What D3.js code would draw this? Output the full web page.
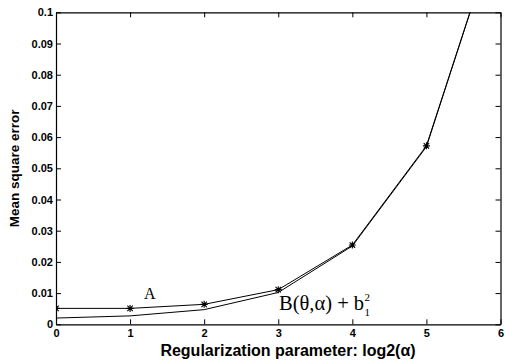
<!DOCTYPE html>
<html><head><meta charset="utf-8">
<script src="https://cdn.jsdelivr.net/npm/d3@7"></script>
<style>
html,body{margin:0;padding:0;background:#fff;}
svg{display:block;}
.tick text{font-family:"Liberation Sans",Arial,sans-serif;font-weight:bold;font-size:11px;fill:#000;}
</style></head>
<body>
<script>
const xValues = [0, 1, 2, 3, 4, 5, 6];
const seriesA = [0.0051, 0.0051, 0.0064, 0.0111, 0.0254, 0.0572, 0.130];
const seriesB = [0.0020, 0.0027, 0.0047, 0.0102, 0.0251, 0.0569, 0.130];
const xTicks = [0, 1, 2, 3, 4, 5, 6];
const yTicks = [0, 0.01, 0.02, 0.03, 0.04, 0.05, 0.06, 0.07, 0.08, 0.09, 0.1];
const yTickLabels = ["0", "0.01", "0.02", "0.03", "0.04", "0.05", "0.06", "0.07", "0.08", "0.09", "0.1"];

const W = 505, H = 364;
const L = 56, R = 500.5, T = 12.3, B = 324.3;
const svg = d3.select("body").append("svg").attr("width", W).attr("height", H);

const x = d3.scaleLinear().domain([0, 6]).range([L, R]);
const y = d3.scaleLinear().domain([0, 0.1]).range([B, T]);

svg.append("defs").append("clipPath").attr("id", "clip")
  .append("rect").attr("x", L).attr("y", T).attr("width", R - L).attr("height", B - T);

// axes
const gB = svg.append("g").attr("transform", `translate(0,${B})`)
  .call(d3.axisBottom(x).tickValues(xTicks).tickFormat(d3.format("d")).tickSizeInner(-5).tickSizeOuter(0).tickPadding(3));
const gT = svg.append("g").attr("transform", `translate(0,${T})`)
  .call(d3.axisTop(x).tickValues(xTicks).tickFormat("").tickSizeInner(-5).tickSizeOuter(0));
const gL = svg.append("g").attr("transform", `translate(${L},0)`)
  .call(d3.axisLeft(y).tickValues(yTicks).tickFormat((d, i) => yTickLabels[i]).tickSizeInner(-5).tickSizeOuter(0).tickPadding(3));
const gR = svg.append("g").attr("transform", `translate(${R},0)`)
  .call(d3.axisRight(y).tickValues(yTicks).tickFormat("").tickSizeInner(-5).tickSizeOuter(0));
[gB, gT, gL, gR].forEach(g => {
  g.selectAll(".domain").attr("stroke", "#000").attr("stroke-width", 1.2);
  g.selectAll(".tick line").attr("stroke", "#000");
});
gB.selectAll(".tick text").attr("dy", "0.85em");

// lines
const line = d3.line().x((d, i) => x(xValues[i])).y(d => y(d));
const plot = svg.append("g").attr("clip-path", "url(#clip)");
plot.append("path").datum(seriesB).attr("d", line).attr("fill", "none").attr("stroke", "#000").attr("stroke-width", 1);
plot.append("path").datum(seriesA).attr("d", line).attr("fill", "none").attr("stroke", "#000").attr("stroke-width", 1);

// asterisk markers on series A
const s = 3.5, dg = 2.7;
const star = `M0,${-s}L0,${s}M${-s},0L${s},0M${-dg},${-dg}L${dg},${dg}M${-dg},${dg}L${dg},${-dg}`;
plot.selectAll(".mk").data(seriesA).enter().append("path")
  .attr("transform", (d, i) => `translate(${x(xValues[i])},${y(d)})`)
  .attr("d", star).attr("stroke", "#000").attr("stroke-width", 1.1).attr("fill", "none");

// annotations
const serif = "'Liberation Serif','Times New Roman',serif";
svg.append("text").attr("x", 144).attr("y", 299)
  .attr("font-family", serif).attr("font-size", 16).text("A");
const bt = svg.append("text").attr("x", 279).attr("y", 310)
  .attr("font-family", serif).attr("font-size", 20.5).text("B(θ,α) + b");
const bx = 279 + bt.node().getComputedTextLength() + 0.5;
svg.append("text").attr("x", bx).attr("y", 300.5)
  .attr("font-family", serif).attr("font-size", 11).text("2");
svg.append("text").attr("x", bx).attr("y", 315.5)
  .attr("font-family", serif).attr("font-size", 11).text("1");

// axis titles
svg.append("text").attr("x", 288).attr("y", 356).attr("text-anchor", "middle")
  .attr("font-family", "'Liberation Sans',Arial,sans-serif").attr("font-weight", "bold").attr("font-size", 16)
  .text("Regularization parameter: log2(α)");
svg.append("text").attr("transform", `translate(19,${(T + B) / 2}) rotate(-90)`).attr("text-anchor", "middle")
  .attr("font-family", "'Liberation Sans',Arial,sans-serif").attr("font-weight", "bold").attr("font-size", 13.5)
  .text("Mean square error");
</script>
</body></html>
